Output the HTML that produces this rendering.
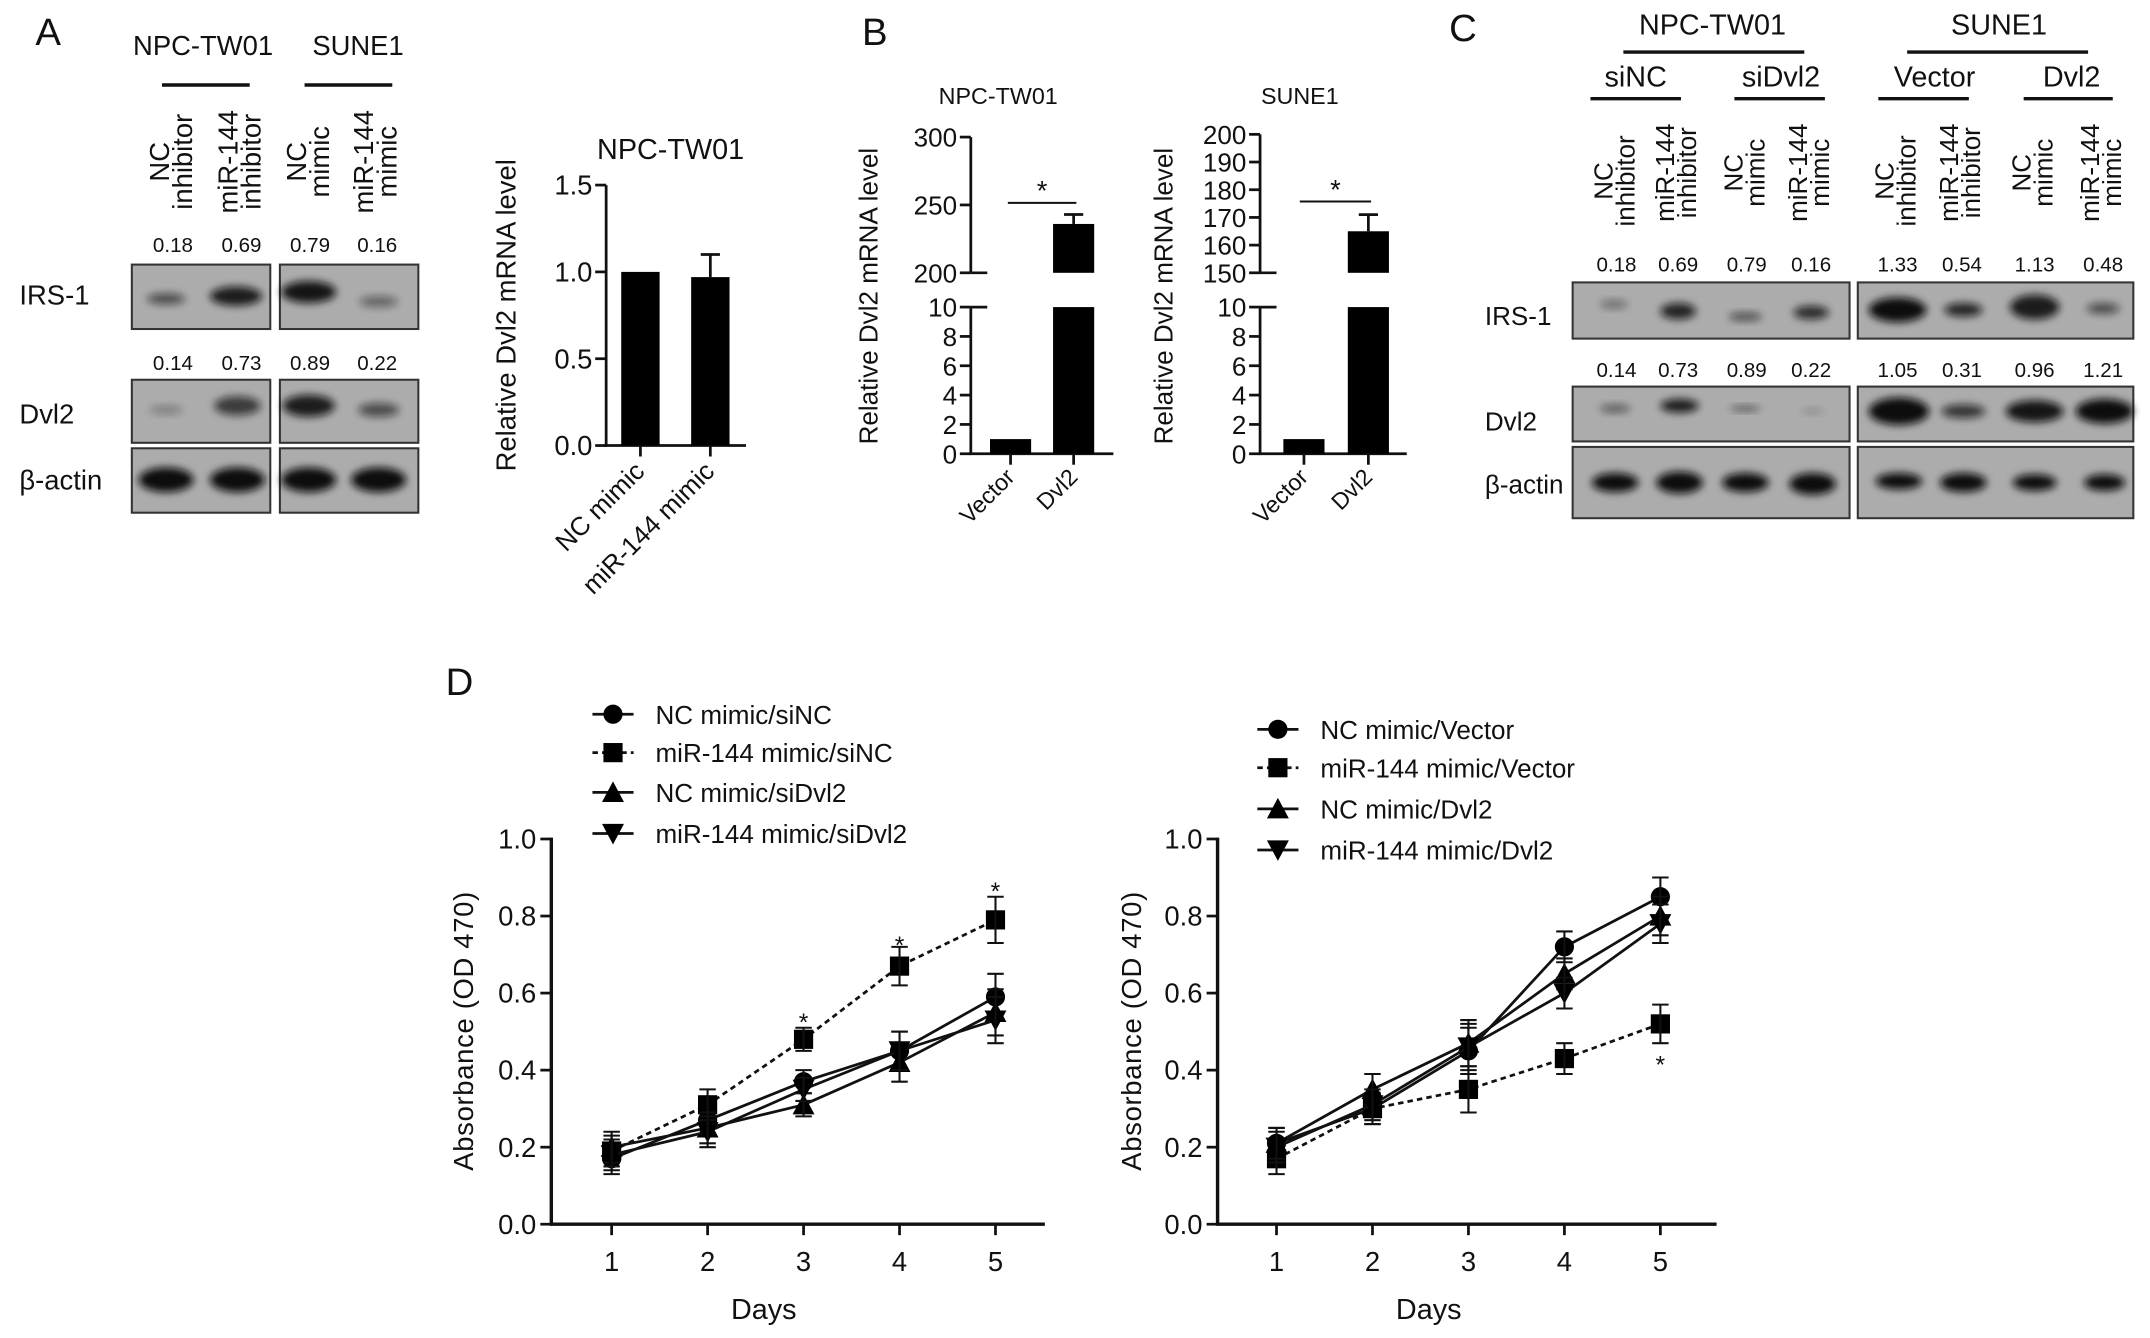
<!DOCTYPE html>
<html><head><meta charset="utf-8"><style>
html,body{margin:0;padding:0;background:#fff;}
svg{display:block;font-family:"Liberation Sans",sans-serif;}
</style></head><body>
<svg id="fig" width="2150" height="1338" viewBox="0 0 1568 976" xmlns="http://www.w3.org/2000/svg">
<defs>
<filter id="blur" x="-30%" y="-60%" width="160%" height="220%"><feGaussianBlur stdDeviation="3"/></filter>
</defs>
<g id="root"></g>
</svg>
<script>
// ---------- data ----------
const barACats=["NC mimic","miR-144 mimic"];
const barAVals=[1.0,0.97];
const barAErr=[0,0.13];
const barAticks=[0,0.5,1.0,1.5];
const bCats=["Vector","Dvl2"];
const bNpcVals=[1,236];
const bNpcErr=[0,7];
const bSuneVals=[1,165];
const bSuneErr=[0,6];
const days=[1,2,3,4,5];
const dTicks=[0,0.2,0.4,0.6,0.8,1.0];
const leftNames=["NC mimic/siNC","miR-144 mimic/siNC","NC mimic/siDvl2","miR-144 mimic/siDvl2"];
const leftS1=[0.17,0.27,0.37,0.45,0.59];
const leftS2=[0.19,0.31,0.48,0.67,0.79];
const leftS3=[0.20,0.25,0.31,0.42,0.55];
const leftS4=[0.18,0.24,0.35,0.45,0.53];
const leftE=[0.04,0.04,0.03,0.05,0.06];
const rightNames=["NC mimic/Vector","miR-144 mimic/Vector","NC mimic/Dvl2","miR-144 mimic/Dvl2"];
const rightS1=[0.21,0.30,0.45,0.72,0.85];
const rightS2=[0.17,0.30,0.35,0.43,0.52];
const rightS3=[0.21,0.35,0.47,0.65,0.80];
const rightS4=[0.20,0.31,0.46,0.60,0.78];
const rightE=[0.04,0.04,0.06,0.04,0.05];
const aIrs=["0.18","0.69","0.79","0.16"];
const aDvl=["0.14","0.73","0.89","0.22"];
const cIrs=["0.18","0.69","0.79","0.16","1.33","0.54","1.13","0.48"];
const cDvl=["0.14","0.73","0.89","0.22","1.05","0.31","0.96","1.21"];

const NS="http://www.w3.org/2000/svg";
const root=document.getElementById('root');
function el(tag,attrs,parent,txt){const e=document.createElementNS(NS,tag);for(const k in attrs)e.setAttribute(k,attrs[k]);if(txt!==undefined)e.textContent=txt;(parent||root).appendChild(e);return e;}
function T(x,y,s,size,name,anchor,extra){const t=el('text',Object.assign({x:x,y:y,'font-size':size,'text-anchor':anchor||'middle',fill:'#111'},extra||{}),root,s);


return t;}
function L(x1,y1,x2,y2,w,dash){return el('line',Object.assign({x1:x1,y1:y1,x2:x2,y2:y2,stroke:'#111','stroke-width':w||2},dash?{'stroke-dasharray':dash}:{}));}

T(35,33,"A",28,"panel-a-label");T(638,33,"B",28,"panel-b-label");T(1067,30,"C",28,"panel-c-label");T(335,507,"D",28,"panel-d-label");

// ---------- Panel A blot ----------
T(148,40,"NPC-TW01",20,"blot-a-npc-header");T(261,40,"SUNE1",20,"blot-a-sune-header");
L(118,62,182,62,2.5);L(222,62,286,62,2.5);
const aLanes=[["NC","inhibitor"],["miR-144","inhibitor"],["NC","mimic"],["miR-144","mimic"]];
const aX=[126,176,226,275];
aLanes.forEach((l,i)=>{const g=el('g',{transform:`translate(${aX[i]},118) rotate(-90)`});


el('text',{x:0,y:-3,'font-size':20,'text-anchor':'middle',fill:'#111'},g,l[0]);el('text',{x:0,y:14,'font-size':20,'text-anchor':'middle',fill:'#111'},g,l[1]);});
aIrs.forEach((v,i)=>T(aX[i],184,v,15,"irs1-value"));
aDvl.forEach((v,i)=>T(aX[i],270,v,15,"dvl2-value"));
function box(x,y,w,h,name){const r=el('rect',{x:x,y:y,width:w,height:h,fill:'#acacac',stroke:'#333','stroke-width':1.5});

}
function band(cx,cy,rx,ry,op){el('ellipse',{cx:cx,cy:cy,rx:rx,ry:ry,fill:'#111',opacity:op,filter:'url(#blur)'});}
box(96,193,101,47,"blot-a-irs1-left");box(204,193,101,47,"blot-a-irs1-right");
box(96,277,101,46,"blot-a-dvl2-left");box(204,277,101,46,"blot-a-dvl2-right");
box(96,327,101,47,"blot-a-actin-left");box(204,327,101,47,"blot-a-actin-right");
[[121,218,14,4,0.6],[172,216,19,7,0.9],[225,213,20,8,0.95],[276,220,14,4,0.45]].forEach(b=>band(...b));
[[121,299,12,3,0.3],[173,296,17,7,0.7],[225,296,19,8,0.9],[276,299,15,5,0.6]].forEach(b=>band(...b));
[[121,350,20,9,1],[173,350,20,9,1],[225,350,20,9,1],[276,350,20,9,1]].forEach(b=>band(...b));
T(14,222,"IRS-1",20,"row-label-irs1","start");T(14,309,"Dvl2",20,"row-label-dvl2","start");T(14,357,"β-actin",20,"row-label-actin","start");

// ---------- Panel A bar chart ----------
(function(){const x0=442,x1=544,yb=325,yt=135,max=1.5;const Y=v=>yb-(v/max)*(yb-yt);
L(x0,yt,x0,yb+1);L(x0-2,yb,x1,yb);
barAticks.forEach(t=>{L(x0-8,Y(t),x0,Y(t));T(x0-10,Y(t)+7,t.toFixed(1),20,"tick-label","end");});
const cx=[467,518];
barACats.forEach((c,i)=>{const r=el('rect',{x:cx[i]-14,y:Y(barAVals[i]),width:28,height:yb-Y(barAVals[i]),fill:'#000'});


if(barAErr[i]>0){L(cx[i],Y(barAVals[i]),cx[i],Y(barAVals[i]+barAErr[i]));L(cx[i]-7,Y(barAVals[i]+barAErr[i]),cx[i]+7,Y(barAVals[i]+barAErr[i]));}
L(cx[i],yb,cx[i],yb+8);
T(cx[i]+4,yb+20,c,19,"category-label","end",{transform:`rotate(-45 ${cx[i]+4} ${yb+20})`});});
T(489,116,"NPC-TW01",21,"chart-a-title");
T(0,0,"Relative Dvl2 mRNA level",20,"y-axis-title","middle",{transform:"translate(376,230) rotate(-90)"});})();

// ---------- Panel B broken bar charts ----------
function broken(ax,xEnd,upTop,upBot,upTicks,vals,errs,cx,title,titleX,ylabX,sig){
 const yUT=upTop==300?100:98,yUB=199,yLT=224,yLB=331;
 const YU=v=>yUB-(v-upBot)/(upTop-upBot)*(yUB-yUT);const YL=v=>yLB-v/10*(yLB-yLT);
 L(ax,yUT,ax,yUB);L(ax,yLT,ax,yLB);L(ax-1,yLB,xEnd,yLB);
 upTicks.forEach(t=>{L(ax-8,YU(t),ax,YU(t));T(ax-10,YU(t)+7,String(t),19,"tick-label","end");});
 [0,2,4,6,8,10].forEach(t=>{L(ax-8,YL(t),ax,YL(t));T(ax-10,YL(t)+7,String(t),19,"tick-label","end");});
 L(ax,yUB,ax+12,yUB);L(ax,yLT,ax+12,yLT);
 vals.forEach((v,i)=>{let r;
  if(v<=10){r=el('rect',{x:cx[i]-15,y:YL(v),width:30,height:yLB-YL(v),fill:'#000'});}
  else{r=el('rect',{x:cx[i]-15,y:yLT,width:30,height:yLB-yLT,fill:'#000'});el('rect',{x:cx[i]-15,y:YU(v),width:30,height:yUB-YU(v),fill:'#000'});
   L(cx[i],YU(v),cx[i],YU(v+errs[i]));L(cx[i]-7,YU(v+errs[i]),cx[i]+7,YU(v+errs[i]));}
  
  
  L(cx[i],yLB,cx[i],yLB+8);
  T(cx[i]+4,yLB+18,bCats[i],17,"category-label","end",{transform:`rotate(-45 ${cx[i]+4} ${yLB+18})`});});
 L(sig[0],sig[2],sig[1],sig[2],1.5);T((sig[0]+sig[1])/2,sig[2]-2,"*",20,"significance-star");
 T(titleX,76,title,17,"chart-title");
 T(0,0,"Relative Dvl2 mRNA level",19,"y-axis-title","middle",{transform:`translate(${ylabX},216) rotate(-90)`});
}
broken(708,812,300,200,[200,250,300],bNpcVals,bNpcErr,[737,783],"NPC-TW01",728,640,[735,785,148]);
broken(919,1026,200,150,[150,160,170,180,190,200],bSuneVals,bSuneErr,[951,998],"SUNE1",948,855,[948,1000,147]);

// ---------- Panel C blot ----------
T(1249,25,"NPC-TW01",21,"blot-c-npc-header");T(1458,25,"SUNE1",21,"blot-c-sune-header");
L(1184,38,1316,38,2.5);L(1391,38,1523,38,2.5);
[["siNC",1193,1160,1226],["siDvl2",1299,1265,1331],["Vector",1411,1370,1436],["Dvl2",1511,1476,1541]].forEach(h=>{T(h[1],63,h[0],21,"group-header");L(h[2],72,h[3],72,2.5);});
const cX=[1179,1224,1274,1321,1384,1431,1484,1534];
const cLanes=[["NC","inhibitor"],["miR-144","inhibitor"],["NC","mimic"],["miR-144","mimic"],["NC","inhibitor"],["miR-144","inhibitor"],["NC","mimic"],["miR-144","mimic"]];
cLanes.forEach((l,i)=>{const cy=(i%2==0&&i%4==0)?132:126;const g=el('g',{transform:`translate(${cX[i]},${cy}) rotate(-90)`});


el('text',{x:0,y:-3,'font-size':19,'text-anchor':'middle',fill:'#111'},g,l[0]);el('text',{x:0,y:13,'font-size':19,'text-anchor':'middle',fill:'#111'},g,l[1]);});
cIrs.forEach((v,i)=>T(cX[i],198,v,15,"irs1-value"));
cDvl.forEach((v,i)=>T(cX[i],275,v,15,"dvl2-value"));
box(1147,206,202,41,"blot-c-irs1-left");box(1355,206,201,41,"blot-c-irs1-right");
box(1147,282,202,40,"blot-c-dvl2-left");box(1355,282,201,40,"blot-c-dvl2-right");
box(1147,326,202,52,"blot-c-actin-left");box(1355,326,201,52,"blot-c-actin-right");
[[1177,222,10,3,0.4],[1224,227,13,6,0.85],[1273,231,12,3,0.6],[1321,228,13,5,0.8],[1384,226,21,9,1],[1432,226,14,5,0.85],[1484,224,18,9,0.9],[1534,225,12,4,0.6]].forEach(b=>band(...b));
[[1178,298,11,3,0.5],[1225,296,14,5,0.9],[1273,298,11,2,0.5],[1322,300,8,2,0.2],[1385,300,22,10,1],[1432,300,16,5,0.75],[1484,300,21,8,0.95],[1535,300,21,9,1]].forEach(b=>band(...b));
[[1178,352,17,7,1],[1225,352,17,8,1],[1273,352,17,7,1],[1322,353,17,8,1],[1385,351,17,6,1],[1432,352,17,7,1],[1484,352,16,6,1],[1535,352,15,6,1]].forEach(b=>band(...b));
T(1083,237,"IRS-1",19,"row-label-irs1","start");T(1083,314,"Dvl2",19,"row-label-dvl2","start");T(1083,360,"β-actin",19,"row-label-actin","start");

// ---------- Panel D line charts ----------
function marker(shape,x,y,g){const s=7;let e;
 if(shape==0)e=el('circle',{cx:x,cy:y,r:s,fill:'#000'},g);
 else if(shape==1)e=el('rect',{x:x-s,y:y-s,width:2*s,height:2*s,fill:'#000'},g);
 else if(shape==2)e=el('polygon',{points:`${x},${y-s-1} ${x+s+1},${y+s} ${x-s-1},${y+s}`,fill:'#000'},g);
 else e=el('polygon',{points:`${x},${y+s+1} ${x+s+1},${y-s} ${x-s-1},${y-s}`,fill:'#000'},g);
 
 }
function lineChart(ax,day1,xEnd,series,errs,names,legX,legY,stars,ylabX,daysX){
 const yb=893,yt=612;const Y=v=>yb-v*(yb-yt);const X=d=>day1+(d-1)*70;
 L(ax,yt-1,ax,yb+1,2.5);L(ax-1,yb,xEnd,yb,2.5);
 dTicks.forEach(t=>{L(ax-8,Y(t),ax,Y(t),2);T(ax-11,Y(t)+7,t.toFixed(1),20,"y-tick-label","end");});
 days.forEach(d=>{L(X(d),yb,X(d),yb+8,2);T(X(d),yb+34,String(d),20,"x-tick-label");});
 T(daysX,962,"Days",21,"x-axis-title");
 T(0,0,"Absorbance (OD 470)",20,"y-axis-title","middle",{transform:`translate(${ylabX},752) rotate(-90)`,'letter-spacing':'0.5'});
 series.forEach((s,k)=>{const g=el('g',{});
  
  
  const pts=s.map((v,i)=>X(days[i])+','+Y(v)).join(' ');
  el('polyline',Object.assign({points:pts,fill:'none',stroke:'#111','stroke-width':2},k==1?{'stroke-dasharray':'4,3'}:{}),g);
  s.forEach((v,i)=>{const x=X(days[i]);L(x,Y(v-errs[i]),x,Y(v+errs[i]),1.5);L(x-6,Y(v+errs[i]),x+6,Y(v+errs[i]),1.5);L(x-6,Y(v-errs[i]),x+6,Y(v-errs[i]),1.5);marker(k,x,Y(v),g);});
  const ly=legY[k];const lg=el('g',{});
  
  
  el('line',Object.assign({x1:legX-15,y1:ly,x2:legX+15,y2:ly,stroke:'#111','stroke-width':2},k==1?{'stroke-dasharray':'4,3'}:{}),lg);
  marker(k,legX,ly,lg);
  el('text',{x:legX+31,y:ly+7,'font-size':19,fill:'#111'},lg,names[k]);});
 stars.forEach(st=>T(X(st[0]),Y(st[1])+8,"*",18,"significance-star"));
}
lineChart(402,446,762,[leftS1,leftS2,leftS3,leftS4],leftE,leftNames,447,[521,549,578,608],[[3,0.53],[4,0.73],[5,0.87]],345,557);
lineChart(888,931,1252,[rightS1,rightS2,rightS3,rightS4],rightE,rightNames,932,[532,560,590,620],[[5,0.42]],832,1042);
</script>
</body></html>
